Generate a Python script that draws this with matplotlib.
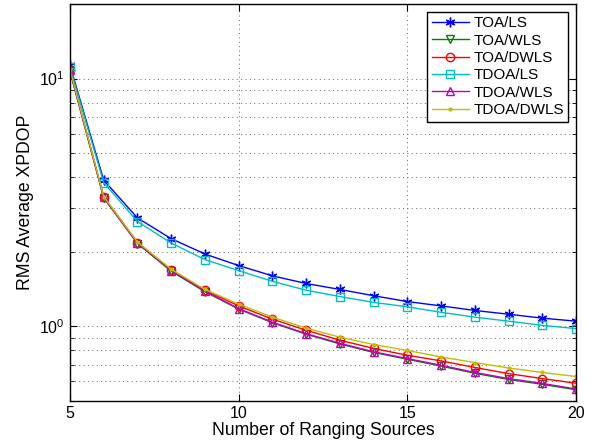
import matplotlib
matplotlib.use("Agg")
import matplotlib.pyplot as plt

plt.rcParams["font.family"] = ["Liberation Sans", "DejaVu Sans"]

n_sources = [5, 6, 7, 8, 9, 10, 11, 12, 13, 14, 15, 16, 17, 18, 19, 20]

toa_ls = [11.3, 3.89, 2.74, 2.26, 1.96, 1.76, 1.60, 1.49, 1.41, 1.33, 1.26, 1.21, 1.16, 1.12, 1.08, 1.05]
toa_wls = [10.7, 3.30, 2.16, 1.67, 1.38, 1.175, 1.035, 0.93, 0.85, 0.785, 0.737, 0.692, 0.647, 0.611, 0.584, 0.555]
toa_dwls = [10.8, 3.33, 2.18, 1.69, 1.40, 1.21, 1.07, 0.965, 0.88, 0.815, 0.765, 0.726, 0.683, 0.645, 0.616, 0.590]
tdoa_ls = [11.1, 3.80, 2.65, 2.17, 1.86, 1.68, 1.52, 1.40, 1.32, 1.25, 1.20, 1.14, 1.09, 1.05, 1.01, 0.98]
tdoa_wls = [10.8, 3.32, 2.17, 1.68, 1.39, 1.18, 1.04, 0.935, 0.855, 0.79, 0.742, 0.697, 0.652, 0.616, 0.589, 0.559]
tdoa_dwls = [10.9, 3.34, 2.19, 1.70, 1.41, 1.23, 1.09, 0.985, 0.905, 0.845, 0.800, 0.753, 0.715, 0.680, 0.652, 0.628]

# (label, values, colour, marker, size)
series = [
    ("TOA/LS", toa_ls, "#0000ff", (6, 2, 0), 7),
    ("TOA/WLS", toa_wls, "#008000", "v", 6),
    ("TOA/DWLS", toa_dwls, "#ff0000", "o", 6),
    ("TDOA/LS", tdoa_ls, "#00bfbf", "s", 6),
    ("TDOA/WLS", tdoa_wls, "#bf00bf", "^", 6),
    ("TDOA/DWLS", tdoa_dwls, "#bfbf00", ".", 4),
]

fig = plt.figure(figsize=(5.91, 4.44), dpi=100)
ax = fig.add_axes([0.1184, 0.0968, 0.8562, 0.8942])

for name, vals, color, marker, ms in series:
    ax.plot(n_sources, vals, color=color, marker=marker, markersize=ms,
            markerfacecolor="none" if marker != "." else color,
            markeredgecolor=color, markeredgewidth=1, linewidth=1, label=name)

ax.set_yscale("log")
ax.set_xlim(5, 20)
ax.set_ylim(0.5, 20)
ax.set_xticks([5, 10, 15, 20])

ax.grid(True, which="major", linestyle=(0, (1, 3.5)), color="#666666", linewidth=0.7)
ax.grid(True, which="minor", axis="y", linestyle=(0, (1, 3.5)), color="#666666", linewidth=0.7)
ax.tick_params(which="both", direction="in", top=True, right=True, labelsize=11.5)
ax.tick_params(which="major", length=5)
ax.tick_params(which="minor", length=3)
for s in ax.spines.values():
    s.set_linewidth(1)

ax.set_xlabel("Number of Ranging Sources", fontsize=12.7, labelpad=1)
ax.set_ylabel("RMS Average XPDOP", fontsize=12.7)

leg = ax.legend(loc="upper right", fontsize=11, fancybox=False, framealpha=1,
                edgecolor="black", borderaxespad=0.5, handlelength=2.4,
                handletextpad=0.3, labelspacing=0.22, borderpad=0.3)
leg.get_frame().set_linewidth(1)

fig.savefig("out.png", dpi=100)
